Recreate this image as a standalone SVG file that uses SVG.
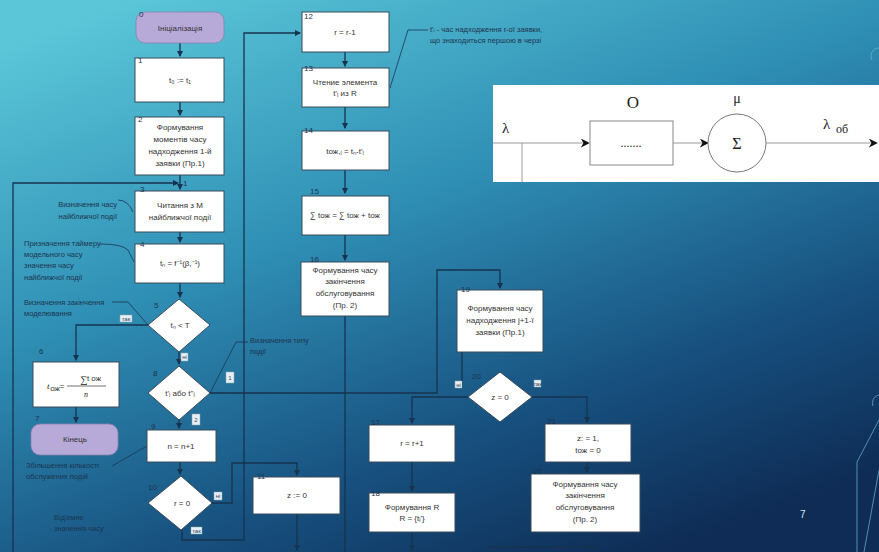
<svg xmlns="http://www.w3.org/2000/svg" width="879" height="552" viewBox="0 0 879 552">
<defs>
<linearGradient id="bg" x1="0.15" y1="0" x2="0.75" y2="1">
<stop offset="0" stop-color="#5ac6d8"/>
<stop offset="0.4" stop-color="#2f8fb5"/>
<stop offset="0.75" stop-color="#17507f"/>
<stop offset="1" stop-color="#0e2c55"/>
</linearGradient>
<marker id="ar" viewBox="0 0 6 6" refX="5" refY="3" markerWidth="5" markerHeight="5" orient="auto">
<path d="M0,0 L6,3 L0,6 z" fill="#16334f"/>
</marker>
<marker id="ak" viewBox="0 0 10 10" refX="8" refY="5" markerWidth="9" markerHeight="9" markerUnits="userSpaceOnUse" orient="auto">
<path d="M0,0 L10,5 L0,10 L3,5 z" fill="#111"/>
</marker>
</defs>
<style>
.b{fill:#fff;stroke:#3a4a5a;stroke-width:1}
.t{fill:#b8aad8;stroke:#8a80b0;stroke-width:0.8}
.x{font-family:"Liberation Sans",Arial,sans-serif;font-size:8px;fill:#333;text-anchor:middle}
.n{font-family:"Liberation Sans",Arial,sans-serif;font-size:8px;fill:#1c3550}
.a{font-family:"Liberation Sans",Arial,sans-serif;font-size:7.5px;fill:#1c3550}
.c{fill:none;stroke:#16334f;stroke-width:1.3}
.l{fill:none;stroke:#1c3550;stroke-width:0.8}
.y{fill:#e8eef4;stroke:#8aa;stroke-width:0.5}
.yt{font-family:"Liberation Sans",Arial,sans-serif;font-size:6px;fill:#2a4a6a;text-anchor:middle}
.s{font-family:"Liberation Serif","Times New Roman",serif;fill:#222}
</style>
<rect width="879" height="552" fill="url(#bg)"/>
<!-- decorative lines -->
<g fill="none" stroke="#6fb9d6" stroke-width="1" opacity="0.7">
<path d="M879,48 A8,8 0 0 0 872,60"/>
<path d="M879,395 A8,8 0 0 0 873,406"/>
<path d="M879,420 L857,462 L857,552"/>
<path d="M879,470 L864,552"/>
</g>

<!-- connectors -->
<g id="connectors">
<path class="c" d="M180,43 V56" marker-end="url(#ar)"/>
<path class="c" d="M180,102 V115" marker-end="url(#ar)"/>
<path class="c" d="M180,175 V189" marker-end="url(#ar)"/>
<path class="c" d="M13,552 V183 H178" marker-end="url(#ar)"/>
<path class="c" d="M180,232 V242" marker-end="url(#ar)"/>
<path class="c" d="M180,283 V297" marker-end="url(#ar)"/>
<path class="c" d="M148,325 H76 V360" marker-end="url(#ar)"/>
<path class="c" d="M76,407 V422" marker-end="url(#ar)"/>
<path class="c" d="M179,352 V364" marker-end="url(#ar)"/>
<path class="c" d="M179,420 V428" marker-end="url(#ar)"/>
<path class="c" d="M180,462 V474" marker-end="url(#ar)"/>
<path class="c" d="M210,393 H437 V270 H500 V288" marker-end="url(#ar)"/>
<path class="c" d="M212,503 H232 V463 H297 V475" marker-end="url(#ar)"/>
<path class="c" d="M182,530 V540 H244 V33 H300" marker-end="url(#ar)"/>
<path class="c" d="M297,514 V550" marker-end="url(#ar)"/>
<path class="c" d="M345,52 V66" marker-end="url(#ar)"/>
<path class="c" d="M345,107 V128" marker-end="url(#ar)"/>
<path class="c" d="M345,170 V193" marker-end="url(#ar)"/>
<path class="c" d="M345,235 V260" marker-end="url(#ar)"/>
<path class="c" d="M345,316 V552"/>
<path class="c" d="M462,352 V388"/>
<path class="c" d="M468,397 H412 V423" marker-end="url(#ar)"/>
<path class="c" d="M532,397 H587 V422" marker-end="url(#ar)"/>
<path class="c" d="M412,462 V491" marker-end="url(#ar)"/>
<path class="c" d="M412,532 V550" marker-end="url(#ar)"/>
<path class="c" d="M587,462 V472" marker-end="url(#ar)"/>
<path class="c" d="M488,547 H593"/>
<circle cx="593" cy="547" r="1.8" fill="#16334f"/>
<!-- annotation leaders -->
<path class="l" d="M118,200 Q128,200 133,212"/>
<path class="l" d="M100,244 Q122,244 128,250 L134,262"/>
<path class="l" d="M112,302 H128 L148,325"/>
<path class="l" d="M210,393 L236,342 H248"/>
<path class="l" d="M112,466 L147,446"/>
<path class="l" d="M390,88 L408,30 H428"/>
</g>

<!-- yes/no labels -->
<g id="labels">
<rect class="y" x="120" y="315" width="12" height="7"/><text class="yt" x="126" y="321">так</text>
<rect class="y" x="181" y="353" width="7" height="8"/><text class="yt" x="184.5" y="359">ні</text>
<rect class="y" x="226" y="372" width="8" height="11"/><text class="yt" x="230" y="380">1</text>
<rect class="y" x="192" y="414" width="8" height="11"/><text class="yt" x="196" y="422">2</text>
<rect class="y" x="214" y="492" width="8" height="8"/><text class="yt" x="218" y="498">ні</text>
<rect class="y" x="191" y="527" width="11" height="7"/><text class="yt" x="196.5" y="533">так</text>
<rect class="y" x="455" y="381" width="7" height="7"/><text class="yt" x="458.5" y="387">ні</text>
<rect class="y" x="534" y="380" width="7" height="7"/><text class="yt" x="537.5" y="386">так</text>
</g>

<g id="n0"><rect class="t" x="136" y="12" width="88" height="31" rx="9"/><text class="n" x="139" y="17">0</text><text class="x" x="180" y="31">Ініціалізація</text></g>
<g id="n1"><rect class="b" x="135" y="58" width="89" height="44"/><text class="n" x="138" y="63">1</text><text class="x" x="180" y="83">t₀ := t₁</text></g>
<g id="n2"><rect class="b" x="135" y="117" width="89" height="58"/><text class="n" x="138" y="122">2</text>
<text class="x" x="180" y="130">Формування</text><text class="x" x="180" y="142">моментів часу</text><text class="x" x="180" y="154">надходження 1-й</text><text class="x" x="180" y="166">заявки (Пр.1)</text></g>
<g id="n3"><rect class="b" x="135" y="191" width="89" height="41"/><text class="n" x="140" y="192">3</text><text class="n" x="183" y="186">1</text>
<text class="x" x="180" y="208">Читання з M</text><text class="x" x="180" y="220">найближчої події</text></g>
<g id="n4"><rect class="b" x="135" y="244" width="89" height="39"/><text class="n" x="140" y="247">4</text><text class="x" x="180" y="266">tₙ = f⁻¹(β,⁻¹)</text></g>
<g id="n5"><polygon class="b" points="179,299 210,325 179,352 148,325"/><text class="n" x="154" y="308">5</text><text class="x" x="180" y="328">tₙ &lt; T</text></g>
<g id="n6"><rect class="b" x="33" y="362" width="86" height="45"/><text class="n" x="39" y="354">6</text>
<text class="s" x="84" y="383" font-size="10" text-anchor="middle">∑</text><text class="x" x="94" y="381" font-size="6">t ож</text>
<line x1="67" y1="386" x2="106" y2="386" stroke="#333" stroke-width="0.7"/>
<text class="s" x="47" y="389" font-size="9" font-style="italic">t</text><text class="x" x="55" y="391" font-size="5">ож</text><text class="x" x="62" y="389">=</text>
<text class="s" x="86" y="397" font-size="8" font-style="italic" text-anchor="middle">n</text></g>
<g id="n7"><rect class="t" x="31" y="424" width="87" height="31" rx="9"/><text class="n" x="35" y="421">7</text><text class="x" x="75" y="442">Кінець</text></g>
<g id="n8"><polygon class="b" points="179,366 210,393 179,420 148,393"/><text class="n" x="153" y="376">8</text><text class="x" x="180" y="396" font-size="7">t'ᵢ або t''ᵢ</text></g>
<g id="n9"><rect class="b" x="147" y="430" width="69" height="32"/><text class="n" x="151" y="429">9</text><text class="x" x="181" y="449">n = n+1</text></g>
<g id="n10"><polygon class="b" points="181,476 212,503 181,530 148,503"/><text class="n" x="148" y="490">10</text><text class="x" x="182" y="506">r = 0</text></g>
<g id="n11"><rect class="b" x="253" y="477" width="87" height="37"/><text class="n" x="257" y="479">11</text><text class="x" x="297" y="498">z := 0</text></g>
<g id="n12"><rect class="b" x="302" y="12" width="87" height="40"/><text class="n" x="304" y="19">12</text><text class="x" x="345" y="35">r = r-1</text></g>
<g id="n13"><rect class="b" x="302" y="68" width="87" height="39"/><text class="n" x="304" y="71">13</text><text class="x" x="345" y="85">Чтение элемента</text><text class="x" x="345" y="96">t'ᵢ из R</text></g>
<g id="n14"><rect class="b" x="302" y="131" width="87" height="39"/><text class="n" x="304" y="133">14</text><text class="x" x="345" y="154">tож,ᵢ = tₙ-t'ᵢ</text></g>
<g id="n15"><rect class="b" x="302" y="196" width="87" height="39"/><text class="n" x="310" y="194">15</text>
<text class="x" x="345" y="218">∑ tож = ∑ tож + tож</text></g>
<g id="n16"><rect class="b" x="301" y="262" width="88" height="54"/><text class="n" x="310" y="262">16</text>
<text class="x" x="345" y="273">Формування часу</text><text class="x" x="345" y="284">закінчення</text><text class="x" x="345" y="296">обслуговування</text><text class="x" x="345" y="308">(Пр. 2)</text></g>
<g id="n19"><rect class="b" x="457" y="290" width="86" height="62"/><text class="n" x="461" y="292">19</text>
<text class="x" x="500" y="311">Формування часу</text><text class="x" x="500" y="323">надходження j+1-ї</text><text class="x" x="500" y="335">заявки (Пр.1)</text></g>
<g id="n20"><polygon class="b" points="500,372 532,397 500,422 468,397"/><text class="n" x="472" y="379">20</text><text class="x" x="500" y="400">z = 0</text></g>
<g id="n17"><rect class="b" x="369" y="425" width="86" height="37"/><text class="n" x="371" y="425">17</text><text class="x" x="412" y="446">r = r+1</text></g>
<g id="n18"><rect class="b" x="369" y="493" width="86" height="39"/><text class="n" x="371" y="496">18</text><text class="x" x="412" y="510">Формування R</text><text class="x" x="412" y="521">R = {tᵢ'}</text></g>
<g id="n21"><rect class="b" x="545" y="424" width="86" height="38"/><text class="n" x="547" y="424">21</text><text class="x" x="588" y="441">z: = 1,</text><text class="x" x="588" y="453">tож = 0</text></g>
<g id="n22"><rect class="b" x="531" y="474" width="109" height="58"/><text class="n" x="533" y="474">22</text>
<text class="x" x="585" y="487">Формування часу</text><text class="x" x="585" y="498">закінчення</text><text class="x" x="585" y="510">обслуговування</text><text class="x" x="585" y="522">(Пр. 2)</text></g>

<!-- annotations -->
<g id="annotations">
<text class="a" x="117" y="207" text-anchor="end">Визначення часу</text>
<text class="a" x="117" y="219" text-anchor="end">найближчої події</text>
<text class="a" x="24" y="246">Призначення таймеру</text>
<text class="a" x="24" y="257">модельного часу</text>
<text class="a" x="24" y="268">значення часу</text>
<text class="a" x="24" y="280">найближчої події</text>
<text class="a" x="24" y="305">Визначення закінчення</text>
<text class="a" x="24" y="316">моделювання</text>
<text class="a" x="250" y="343">Визначення типу</text>
<text class="a" x="250" y="354">події</text>
<text class="a" x="26" y="468">Збільшення кількості</text>
<text class="a" x="26" y="479">обслужених подій</text>
<text class="a" x="54" y="520">Від'ємне</text>
<text class="a" x="54" y="531">значення часу</text>
<text class="a" x="430" y="32" font-size="7">t'ᵢ - час надходження r-ої заявки,</text>
<text class="a" x="430" y="43" font-size="7">що знаходиться першою в черзі</text>
<text x="800" y="518" font-family="Liberation Sans,Arial,sans-serif" font-size="10" fill="#d8e4ee">7</text>
</g>

<!-- inset queue diagram -->
<g id="inset">
<rect x="493" y="85" width="386" height="97" fill="#fff"/>
<line x1="493" y1="143" x2="588" y2="143" stroke="#999" stroke-width="1" marker-end="url(#ak)"/>
<line x1="522" y1="143" x2="522" y2="182" stroke="#999" stroke-width="1"/>
<rect x="590" y="121" width="83" height="44" fill="#fff" stroke="#888" stroke-width="1"/>
<text class="s" x="631" y="147" font-size="12" text-anchor="middle">.......</text>
<line x1="673" y1="143" x2="707" y2="143" stroke="#999" stroke-width="1" marker-end="url(#ak)"/>
<circle cx="737" cy="143" r="29" fill="#fff" stroke="#777" stroke-width="1"/>
<text class="s" x="737" y="149" font-size="16" text-anchor="middle">Σ</text>
<line x1="766" y1="143" x2="876" y2="143" stroke="#999" stroke-width="1" marker-end="url(#ak)"/>
<text class="s" x="633" y="108" font-size="17" text-anchor="middle">O</text>
<text class="s" x="737" y="103" font-size="14" text-anchor="middle">μ</text>
<text class="s" x="502" y="133" font-size="15">λ</text>
<text class="s" x="823" y="129" font-size="15">λ</text><text class="s" x="836" y="133" font-size="12">об</text>
</g>
</svg>
